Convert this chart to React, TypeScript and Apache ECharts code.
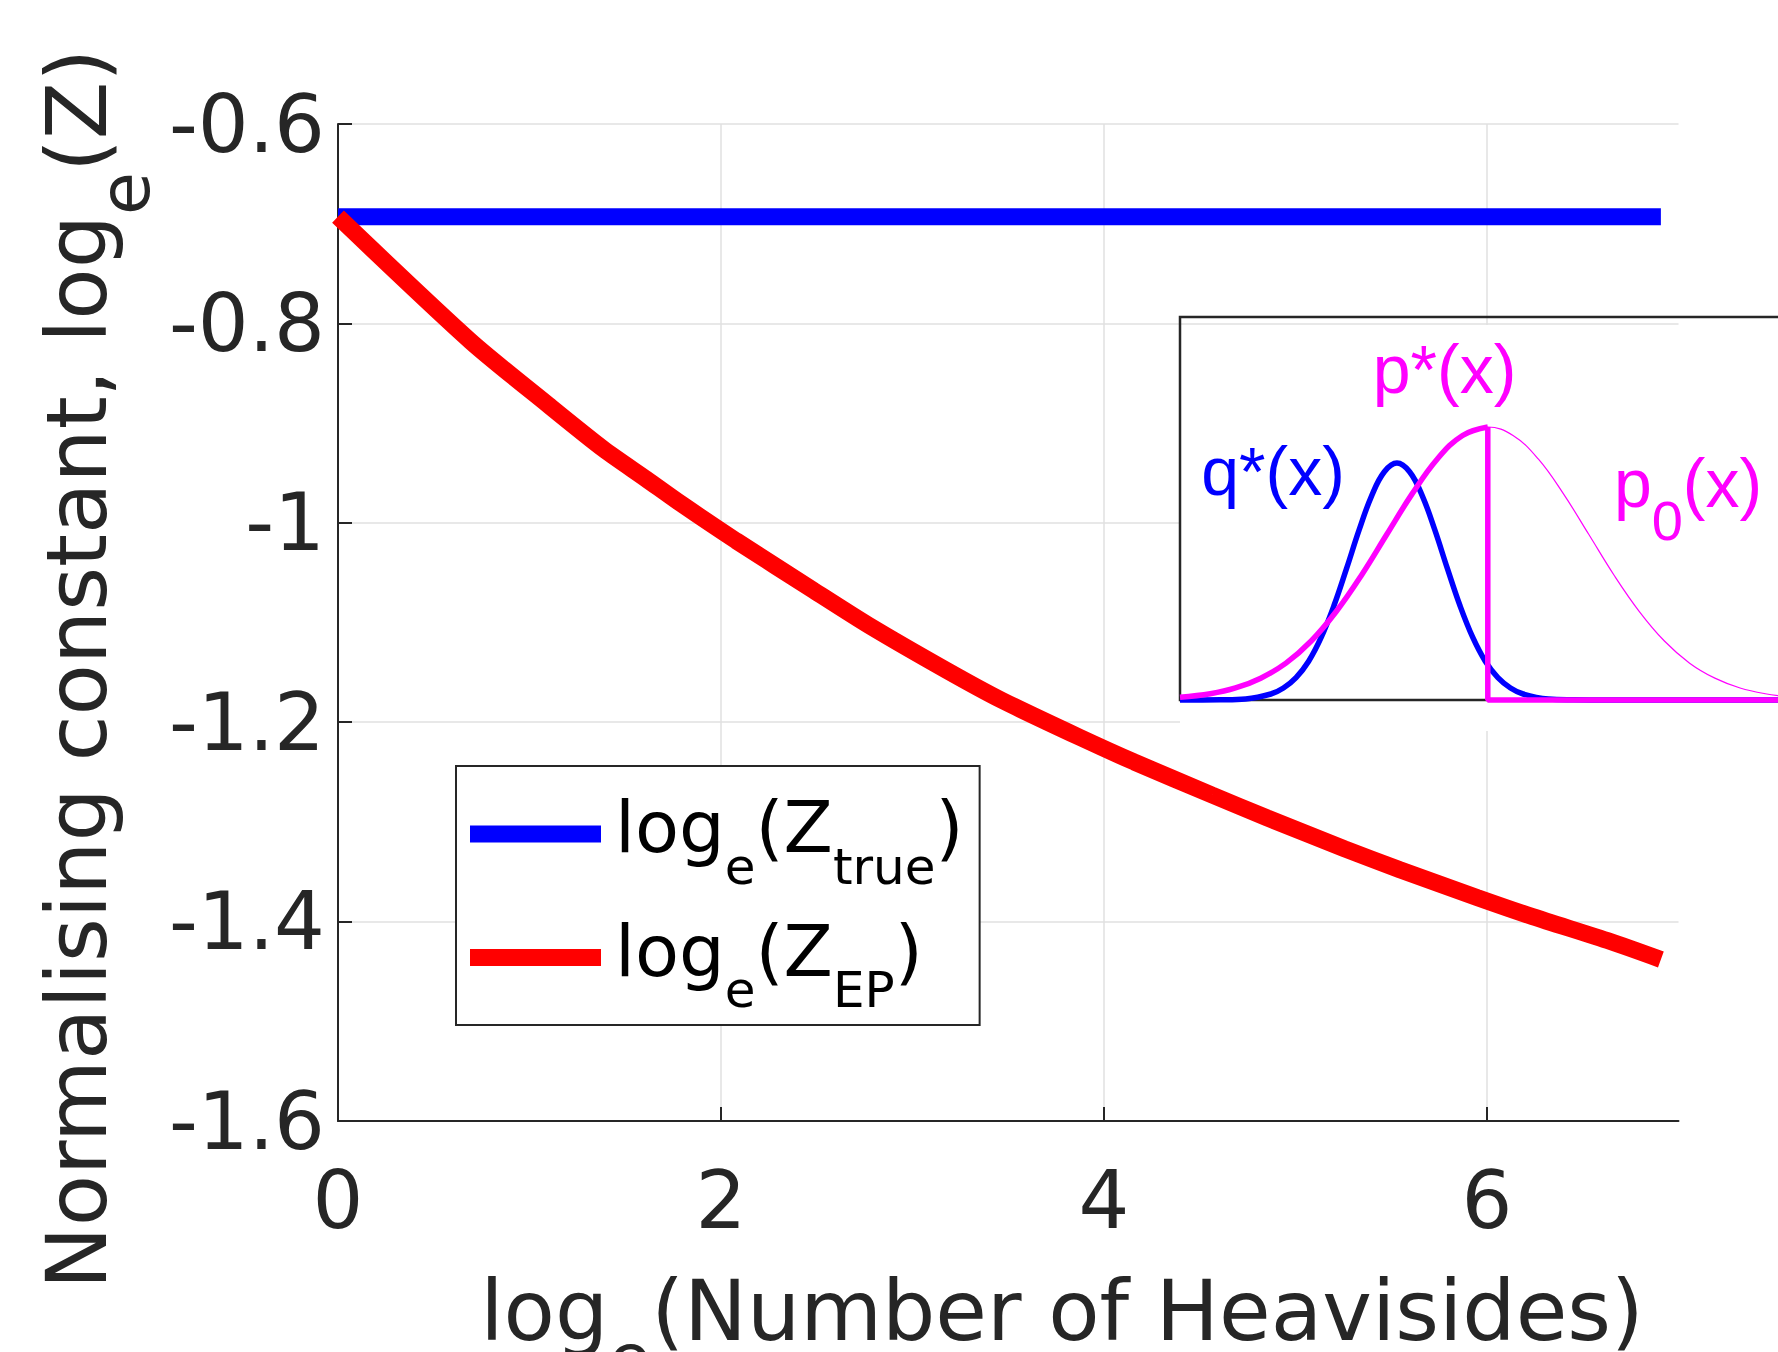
import { useEffect, useRef } from 'react';
import * as echarts from 'echarts';

// ---------- main chart data ----------
const xTicks = [0, 2, 4, 6];
const logNumHeavisides = [0, 0.693, 1.099, 1.386, 1.609, 1.792, 2.079, 2.485, 2.773, 3.178, 3.466, 3.871, 4.159, 4.564, 4.852, 5.257, 5.545, 5.951, 6.238, 6.644, 6.908];
const logZEP = [-0.693, -0.818, -0.882, -0.926, -0.956, -0.981, -1.018, -1.068, -1.103, -1.148, -1.178, -1.215, -1.240, -1.273, -1.296, -1.327, -1.348, -1.376, -1.395, -1.420, -1.438];
const logZTrueX = [0, 6.908];
const logZTrueValue = -0.693;

// ---------- inset data (x in prior std units) ----------
const insetLeftX = [-3.05, -2.75, -2.5, -2.25, -2, -1.75, -1.5, -1.25, -1, -0.75, -0.5, -0.25, 0];
const p0Left = [0.010, 0.023, 0.044, 0.080, 0.135, 0.216, 0.325, 0.458, 0.607, 0.755, 0.883, 0.969, 1];
const insetRightX = [0.25, 0.5, 0.75, 1, 1.25, 1.5, 1.75, 2, 2.25, 2.5, 2.75, 3, 3.25, 3.5];
const p0Right = [0.969, 0.883, 0.755, 0.607, 0.458, 0.325, 0.216, 0.135, 0.080, 0.044, 0.023, 0.011, 0.005, 0.002];
const qX = [-3.05, -2.65, -2.4, -2.15, -2.025, -1.9, -1.775, -1.65, -1.525, -1.4, -1.275, -1.15, -1.025, -0.9, -0.775, -0.65, -0.525, -0.4, -0.275, -0.15, -0.025, 0.1, 0.225, 0.35, 0.6, 0.85, 1.2, 3.5];
const qVals = [0, 0.001, 0.004, 0.022, 0.044, 0.082, 0.142, 0.230, 0.345, 0.481, 0.623, 0.749, 0.836, 0.868, 0.836, 0.749, 0.623, 0.481, 0.345, 0.230, 0.142, 0.082, 0.044, 0.022, 0.004, 0.001, 0, 0];
const pStarTailX = [0, 0, 3.5];
const pStarTailY = [1, 0, 0];

const DJ = 'DejaVu Sans';
const LIB = 'Liberation Sans';
const AX = '#262626';
const GRIDC = '#e0e0e0';

export default function App() {
  const ref = useRef<HTMLDivElement>(null);
  useEffect(() => {
    if (!ref.current) return;
    const chart = echarts.init(ref.current, null, { renderer: 'svg' });
    const zip = (xs: number[], ys: number[]) => xs.map((x, i) => [x, ys[i]]);
    const legendNames: Record<string, string> = {
      ztrue: '{a0|log}{s|e}{a|(Z}{s|true}{a|)}',
      zep: '{a0|log}{s|e}{a|(Z}{s|EP}{a|)}',
    };
    const option: any = {
      animation: false,
      backgroundColor: '#ffffff',
      grid: [
        { left: 338, top: 124, width: 1340.5, height: 997, outerBoundsMode: 'none', z: 0 },
        { left: 1180, top: 317, width: 661, height: 383, show: true, borderColor: AX, borderWidth: 2.5, backgroundColor: 'transparent', outerBoundsMode: 'none', z: 2 },
      ],
      xAxis: [
        {
          type: 'value', gridIndex: 0, min: 0, max: 7, interval: 2, z: 0,
          axisLine: { show: true, onZero: false, lineStyle: { color: AX, width: 2 } },
          axisTick: { show: true, inside: true, length: 14, customValues: xTicks, lineStyle: { color: AX, width: 2 } },
          axisLabel: { show: true, customValues: xTicks, margin: 39, fontSize: 80, fontFamily: DJ, color: AX },
          splitLine: { show: true, lineStyle: { color: [GRIDC, GRIDC, GRIDC, GRIDC, 'rgba(0,0,0,0)'], width: 1.5 } },
        },
        { type: 'value', gridIndex: 1, min: -3.05, max: 3.5, show: false, splitLine: { show: false } },
      ],
      yAxis: [
        {
          type: 'value', gridIndex: 0, min: -1.6, max: -0.6, interval: 0.2, z: 0,
          axisLine: { show: true, onZero: false, lineStyle: { color: AX, width: 2 } },
          axisTick: { show: true, inside: true, length: 14, lineStyle: { color: AX, width: 2 } },
          axisLabel: { show: true, margin: 13, fontSize: 80, fontFamily: DJ, color: AX },
          splitLine: { show: true, lineStyle: { color: GRIDC, width: 1.5 } },
        },
        { type: 'value', gridIndex: 1, min: 0, max: 1.403, show: false, splitLine: { show: false } },
      ],
      legend: {
        data: ['ztrue', 'zep'],
        orient: 'vertical',
        left: 456, top: 766,
        padding: [25, 16, 10, 14],
        itemGap: 23,
        itemWidth: 131, itemHeight: 17,
        icon: 'rect',
        borderColor: AX, borderWidth: 2, backgroundColor: '#ffffff',
        formatter: (n: string) => legendNames[n],
        textStyle: {
          color: '#000', fontFamily: DJ, fontSize: 72,
          rich: {
            a0: { color: '#000', fontFamily: DJ, fontSize: 72, lineHeight: 86, height: 72, verticalAlign: 'top', padding: [0, 0, 0, 9] },
            a: { color: '#000', fontFamily: DJ, fontSize: 72, lineHeight: 86, height: 72, verticalAlign: 'top' },
            s: { color: '#000', fontFamily: DJ, fontSize: 50, lineHeight: 86, height: 21, verticalAlign: 'bottom' },
          },
        },
      },
      series: [
        { name: 'ztrue', type: 'line', xAxisIndex: 0, yAxisIndex: 0, data: logZTrueX.map((x) => [x, logZTrueValue]), symbol: 'none', clip: false, z: 2, lineStyle: { color: '#0000ff', width: 17 }, itemStyle: { color: '#0000ff' } },
        { name: 'zep', type: 'line', xAxisIndex: 0, yAxisIndex: 0, data: zip(logNumHeavisides, logZEP), symbol: 'none', smooth: 0.25, clip: false, z: 3, lineStyle: { color: '#ff0000', width: 17 }, itemStyle: { color: '#ff0000' } },
        { name: 'p0', type: 'line', xAxisIndex: 1, yAxisIndex: 1, data: zip(insetLeftX, p0Left).concat(zip(insetRightX, p0Right)), symbol: 'none', smooth: 0.4, clip: false, z: 4, lineStyle: { color: '#ff00ff', width: 1.2 } },
        { name: 'qstar', type: 'line', xAxisIndex: 1, yAxisIndex: 1, data: zip(qX, qVals), symbol: 'none', smooth: 0.4, clip: false, z: 5, lineStyle: { color: '#0000ff', width: 5.5 } },
        { name: 'pstar', type: 'line', xAxisIndex: 1, yAxisIndex: 1, data: zip(insetLeftX, p0Left), symbol: 'none', smooth: 0.4, clip: false, z: 6, lineStyle: { color: '#ff00ff', width: 5.5 } },
        { name: 'pstarTail', type: 'line', xAxisIndex: 1, yAxisIndex: 1, data: zip(pStarTailX, pStarTailY), symbol: 'none', smooth: false, clip: false, z: 6, lineStyle: { color: '#ff00ff', width: 5.5 } },
      ],
      graphic: {
        elements: [
          { type: 'rect', z: 1, silent: true, shape: { x: 1180, y: 325, width: 600, height: 406 }, style: { fill: '#ffffff' } },
          {
            type: 'text', z: 10, x: 77, y: 669, rotation: Math.PI / 2,
            style: {
              text: '{a|Normalising constant, log}{s|e}{a|(Z)}', align: 'center', verticalAlign: 'middle', fill: AX, fontSize: 84, fontFamily: DJ,
              rich: {
                a: { fill: AX, fontSize: 84, fontFamily: DJ, lineHeight: 100 },
                s: { fill: AX, fontSize: 70, fontFamily: DJ, lineHeight: 100, padding: [96, 0, 0, 0] },
              },
            },
          },
          {
            type: 'text', z: 10, x: 1062, y: 1311,
            style: {
              text: '{a|log}{s|e}{a|(Number of Heavisides)}', align: 'center', verticalAlign: 'middle', fill: AX, fontSize: 84, fontFamily: DJ,
              rich: {
                a: { fill: AX, fontSize: 84, fontFamily: DJ, lineHeight: 100 },
                s: { fill: AX, fontSize: 70, fontFamily: DJ, lineHeight: 100, padding: [96, 0, 0, 0] },
              },
            },
          },
          { type: 'text', z: 10, x: 1273, y: 471, style: { text: 'q*(x)', align: 'center', verticalAlign: 'middle', fill: '#0000ff', fontSize: 68, fontFamily: LIB } },
          { type: 'text', z: 10, x: 1444.5, y: 369, style: { text: 'p*(x)', align: 'center', verticalAlign: 'middle', fill: '#ff00ff', fontSize: 68, fontFamily: LIB } },
          {
            type: 'text', z: 10, x: 1688, y: 483,
            style: {
              text: '{a|p}{s|0}{a|(x)}', align: 'center', verticalAlign: 'middle', fill: '#ff00ff', fontSize: 68, fontFamily: LIB,
              rich: {
                a: { fill: '#ff00ff', fontSize: 68, fontFamily: LIB, lineHeight: 80 },
                s: { fill: '#ff00ff', fontSize: 56, fontFamily: LIB, lineHeight: 80, padding: [74, 0, 0, 0] },
              },
            },
          },
        ],
      },
    };
    chart.setOption(option);
    return () => chart.dispose();
  }, []);
  return <div ref={ref} style={{ position: 'absolute', left: 0, top: 0, width: 1778, height: 1352 }} />;
}
